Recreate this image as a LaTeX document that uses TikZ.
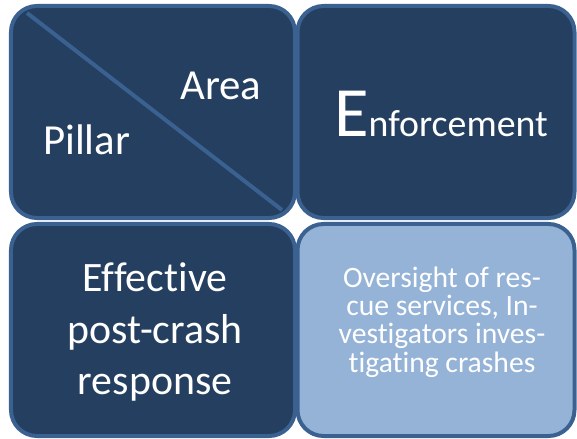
\documentclass[tikz,border=0pt]{standalone}
\usepackage{fontspec}
\setmainfont[Ligatures={NoCommon}]{Carlito}
\usetikzlibrary{calc}

\definecolor{pillarnavy}{HTML}{243F60}
\definecolor{pillaredge}{HTML}{3A6190}
\definecolor{pillarlight}{HTML}{95B3D7}

\tikzset{
  cellbox/.style={draw=pillaredge, line width=4bp, fill=pillarnavy,
    rounded corners=26bp, minimum width=284bp, minimum height=212bp,
    inner sep=0pt, anchor=center},
  celltext/.style={text=white, inner sep=0pt},
}

\begin{document}
\begin{tikzpicture}[%
x=1bp, y=-1bp,
]
\useasboundingbox (0,0) rectangle (577,439);
%% boxes;
\node [cellbox] (corner) at (153,112) {};
\node [cellbox, minimum width=277bp] (enforce) at (436,112) {};
\node [cellbox] (postcrash) at (153,330) {};
\node [cellbox, minimum width=277bp, fill=pillarlight] (oversight) at (436,330) {};
%% diagonal;
\coordinate (diagstart) at (27,13);
\coordinate (diagend) at (282,210);
\draw [pillaredge, line width=4bp] (diagstart) -- (diagend);
%% labels;
\node [celltext, anchor=base west, font=\fontsize{43}{52}\selectfont] (area) at (180,100) {Area};
\node [celltext, anchor=base west, font=\fontsize{43}{52}\selectfont] (pillar) at (43,155) {Pillar};
\node [celltext, anchor=base] (enforcetext) at (441,137)
  {{\fontsize{71}{71}\selectfont E}{\fontsize{38}{38}\selectfont nforcement}};
\node [celltext, align=center, font=\fontsize{42}{52}\selectfont] (postcrashtext) at (155,332)
  {Effective\\post-crash\\response};
\node [celltext, align=center, font=\fontsize{29.7}{28.5}\selectfont] (oversighttext) at (442,322)
  {Oversight of res-\\cue services, In-\\vestigators inves-\\tigating crashes};
\end{tikzpicture}
\end{document}
